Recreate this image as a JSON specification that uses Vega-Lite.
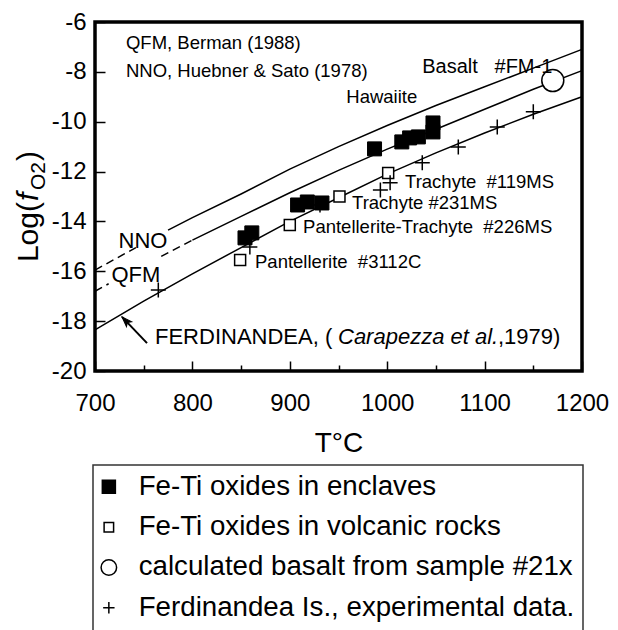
{
  "$schema": "https://vega.github.io/schema/vega-lite/v6.json",
  "width": 487,
  "height": 349,
  "autosize": {"type": "none"},
  "padding": {"left": 95, "top": 22, "right": 36, "bottom": 259},
  "background": "white",
  "config": {
    "view": {"stroke": "black", "strokeWidth": 3.5},
    "font": "Liberation Sans",
    "axis": {"grid": false, "domain": false, "labelFont": "Liberation Sans", "labelColor": "black", "tickColor": "black", "titleColor": "black", "titleFont": "Liberation Sans", "titleFontWeight": "normal"},
    "legend": {"strokeWidth": 1.5},
    "text": {"font": "Liberation Sans", "color": "black"}
  },
  "datasets": {
    "solid_lines": [
      {"curve": "NNO", "T": 775, "logfo2": -14.35}, {"curve": "NNO", "T": 800, "logfo2": -13.85}, {"curve": "NNO", "T": 850, "logfo2": -12.9}, {"curve": "NNO", "T": 900, "logfo2": -11.9}, {"curve": "NNO", "T": 950, "logfo2": -11.0}, {"curve": "NNO", "T": 1000, "logfo2": -10.15}, {"curve": "NNO", "T": 1050, "logfo2": -9.35}, {"curve": "NNO", "T": 1100, "logfo2": -8.6}, {"curve": "NNO", "T": 1150, "logfo2": -7.85}, {"curve": "NNO", "T": 1200, "logfo2": -7.1},
      {"curve": "QFM", "T": 800, "logfo2": -14.75}, {"curve": "QFM", "T": 850, "logfo2": -13.8}, {"curve": "QFM", "T": 900, "logfo2": -12.85}, {"curve": "QFM", "T": 950, "logfo2": -11.95}, {"curve": "QFM", "T": 1000, "logfo2": -11.1}, {"curve": "QFM", "T": 1050, "logfo2": -10.3}, {"curve": "QFM", "T": 1100, "logfo2": -9.5}, {"curve": "QFM", "T": 1150, "logfo2": -8.7}, {"curve": "QFM", "T": 1200, "logfo2": -7.95},
      {"curve": "FERD", "T": 700, "logfo2": -18.35}, {"curve": "FERD", "T": 750, "logfo2": -17.2}, {"curve": "FERD", "T": 800, "logfo2": -16.1}, {"curve": "FERD", "T": 850, "logfo2": -15.05}, {"curve": "FERD", "T": 900, "logfo2": -14.0}, {"curve": "FERD", "T": 950, "logfo2": -13.05}, {"curve": "FERD", "T": 1000, "logfo2": -12.1}, {"curve": "FERD", "T": 1050, "logfo2": -11.25}, {"curve": "FERD", "T": 1100, "logfo2": -10.45}, {"curve": "FERD", "T": 1150, "logfo2": -9.7}, {"curve": "FERD", "T": 1200, "logfo2": -9.0}
    ],
    "dashed_lines": [
      {"seg": "NNO-a", "T": 700, "logfo2": -15.95}, {"seg": "NNO-a", "T": 742, "logfo2": -15.05},
      {"seg": "QFM-a", "T": 700, "logfo2": -16.8}, {"seg": "QFM-a", "T": 714, "logfo2": -16.5},
      {"seg": "QFM-b", "T": 768, "logfo2": -15.4}, {"seg": "QFM-b", "T": 800, "logfo2": -14.75}
    ],
    "enclaves": [
      {"kind": "Fe-Ti oxides in enclaves", "T": 854, "logfo2": -14.66}, {"kind": "Fe-Ti oxides in enclaves", "T": 861, "logfo2": -14.46},
      {"kind": "Fe-Ti oxides in enclaves", "T": 908, "logfo2": -13.34}, {"kind": "Fe-Ti oxides in enclaves", "T": 918, "logfo2": -13.22}, {"kind": "Fe-Ti oxides in enclaves", "T": 933, "logfo2": -13.26},
      {"kind": "Fe-Ti oxides in enclaves", "T": 987, "logfo2": -11.09}, {"kind": "Fe-Ti oxides in enclaves", "T": 1015, "logfo2": -10.81}, {"kind": "Fe-Ti oxides in enclaves", "T": 1023, "logfo2": -10.65}, {"kind": "Fe-Ti oxides in enclaves", "T": 1032, "logfo2": -10.61}, {"kind": "Fe-Ti oxides in enclaves", "T": 1047, "logfo2": -10.41}, {"kind": "Fe-Ti oxides in enclaves", "T": 1047, "logfo2": -10.05}
    ],
    "volcanic": [
      {"kind": "Fe-Ti oxides in volcanic rocks", "T": 849, "logfo2": -15.55}, {"kind": "Fe-Ti oxides in volcanic rocks", "T": 900, "logfo2": -14.14}, {"kind": "Fe-Ti oxides in volcanic rocks", "T": 951, "logfo2": -13.0}, {"kind": "Fe-Ti oxides in volcanic rocks", "T": 1001, "logfo2": -12.06}
    ],
    "basalt": [
      {"kind": "calculated basalt from sample #21x", "T": 1170, "logfo2": -8.35}
    ],
    "experimental": [
      {"kind": "Ferdinandea Is., experimental data.", "T": 765, "logfo2": -16.75}, {"kind": "Ferdinandea Is., experimental data.", "T": 859, "logfo2": -15.03}, {"kind": "Ferdinandea Is., experimental data.", "T": 931, "logfo2": -13.34}, {"kind": "Ferdinandea Is., experimental data.", "T": 993, "logfo2": -12.74}, {"kind": "Ferdinandea Is., experimental data.", "T": 1003, "logfo2": -12.45}, {"kind": "Ferdinandea Is., experimental data.", "T": 1036, "logfo2": -11.65}, {"kind": "Ferdinandea Is., experimental data.", "T": 1073, "logfo2": -11.01}, {"kind": "Ferdinandea Is., experimental data.", "T": 1113, "logfo2": -10.21}, {"kind": "Ferdinandea Is., experimental data.", "T": 1150, "logfo2": -9.6}
    ],
    "notes": [
      {"label": "QFM, Berman (1988)", "T": 731.8, "logfo2": -6.84},
      {"label": "NNO, Huebner & Sato (1978)", "T": 731.8, "logfo2": -7.97},
      {"label": "Hawaiite", "T": 958, "logfo2": -9.0},
      {"label": "Trachyte\u00a0\u00a0#119MS", "T": 1018.3, "logfo2": -12.42},
      {"label": "Trachyte #231MS", "T": 963.9, "logfo2": -13.26},
      {"label": "Pantellerite-Trachyte\u00a0\u00a0#226MS", "T": 913.6, "logfo2": -14.22},
      {"label": "Pantellerite\u00a0\u00a0#3112C", "T": 864.3, "logfo2": -15.63}
    ],
    "basalt_label": [
      {"label": "Basalt\u00a0\u00a0\u00a0#FM-1", "T": 1036, "logfo2": -7.8}
    ],
    "buffers": [
      {"label": "NNO", "T": 749.3, "logfo2": -14.78},
      {"label": "QFM", "T": 742, "logfo2": -16.15}
    ],
    "arrow": [
      {"T": 753.4, "logfo2": -18.88}, {"T": 727.7, "logfo2": -17.83}
    ],
    "arrowhead": [
      {"T": 727.7, "logfo2": -17.83}
    ],
    "ferd_label": [
      {"T": 761.6, "logfo2": -18.65}
    ]
  },
  "layer": [
    {
      "data": {"name": "solid_lines"},
      "mark": {"type": "line", "stroke": "black", "strokeWidth": 1.5},
      "encoding": {
        "x": {"field": "T", "type": "quantitative", "scale": {"domain": [700, 1200], "nice": false, "zero": false},
          "axis": {"values": [700, 750, 800, 850, 900, 950, 1000, 1050, 1100, 1150, 1200], "labelExpr": "datum.value % 100 === 0 ? '' + datum.value : ''", "tickSize": {"condition": {"test": "datum.value % 100 === 0", "value": -10}, "value": -6}, "tickWidth": 1.5, "labelFontSize": 24, "labelPadding": 30, "labelFlush": false, "labelOverlap": false, "title": "T°C", "titleFontSize": 28, "titlePadding": 10}},
        "y": {"field": "logfo2", "type": "quantitative", "scale": {"domain": [-20, -6], "nice": false, "zero": false},
          "axis": {"values": [-20, -19, -18, -17, -16, -15, -14, -13, -12, -11, -10, -9, -8, -7, -6], "labelExpr": "datum.value % 2 === 0 ? '' + datum.value : ''", "tickSize": {"condition": {"test": "datum.value % 2 === 0", "value": -10}, "value": -6}, "tickWidth": 1.5, "labelFontSize": 24, "labelPadding": 19, "labelFlush": false, "labelOverlap": false, "title": null}},
        "detail": {"field": "curve"}
      }
    },
    {
      "data": {"name": "dashed_lines"},
      "mark": {"type": "line", "stroke": "black", "strokeWidth": 1.5, "strokeDash": [8, 5]},
      "encoding": {
        "x": {"field": "T", "type": "quantitative"},
        "y": {"field": "logfo2", "type": "quantitative"},
        "detail": {"field": "seg"}
      }
    },
    {
      "data": {"name": "arrow"},
      "mark": {"type": "line", "stroke": "black", "strokeWidth": 2},
      "encoding": {
        "x": {"field": "T", "type": "quantitative"},
        "y": {"field": "logfo2", "type": "quantitative"}
      }
    },
    {
      "data": {"name": "arrowhead"},
      "mark": {"type": "point", "shape": "M0,0L0.6,1.7L0,1.3L-0.6,1.7Z", "size": 144, "angle": -44, "filled": true, "fill": "black", "stroke": "black", "strokeWidth": 1, "opacity": 1},
      "encoding": {
        "x": {"field": "T", "type": "quantitative"},
        "y": {"field": "logfo2", "type": "quantitative"}
      }
    },
    {
      "data": {"name": "enclaves"},
      "mark": {"type": "point", "size": 196, "stroke": "black", "strokeWidth": 1, "opacity": 1},
      "encoding": {
        "x": {"field": "T", "type": "quantitative"},
        "y": {"field": "logfo2", "type": "quantitative"},
        "shape": {"field": "kind", "type": "nominal", "scale": {"domain": ["Fe-Ti oxides in enclaves", "Fe-Ti oxides in volcanic rocks", "calculated basalt from sample #21x", "Ferdinandea Is., experimental data."], "range": ["square", "square", "circle", "M-1,0H1M0,-1V1"]},
          "legend": {"title": "\u00a0", "titleOrient": "bottom", "titleFontSize": 30, "titlePadding": 0, "orient": "none", "legendX": -2, "legendY": 443, "direction": "vertical", "strokeColor": "#333333", "padding": 8, "labelFontSize": 27.7, "labelFont": "Liberation Sans", "labelColor": "black", "labelOffset": 16, "labelLimit": 1000, "rowPadding": 11.3, "symbolSize": 170, "symbolOffset": -6, "symbolStrokeColor": "black", "symbolStrokeWidth": 1.5, "symbolOpacity": 1,
            "encode": {"symbols": {"update": {"stroke": {"value": "black"}, "strokeWidth": {"value": 1.5}, "size": {"signal": "datum.value === 'Fe-Ti oxides in volcanic rocks' ? 90 : datum.value === 'calculated basalt from sample #21x' ? 240 : datum.value === 'Ferdinandea Is., experimental data.' ? 130 : 170"}}}}}},
        "fill": {"field": "kind", "type": "nominal", "scale": {"domain": ["Fe-Ti oxides in enclaves", "Fe-Ti oxides in volcanic rocks", "calculated basalt from sample #21x", "Ferdinandea Is., experimental data."], "range": ["black", "white", "white", "transparent"]},
          "legend": {"title": "\u00a0", "titleOrient": "bottom", "titleFontSize": 30, "titlePadding": 0, "orient": "none", "legendX": -2, "legendY": 443, "direction": "vertical", "strokeColor": "#333333", "padding": 8, "labelFontSize": 27.7, "labelFont": "Liberation Sans", "labelColor": "black", "labelOffset": 16, "labelLimit": 1000, "rowPadding": 11.3, "symbolSize": 170, "symbolOffset": -6, "symbolStrokeColor": "black", "symbolStrokeWidth": 1.5, "symbolOpacity": 1,
            "encode": {"symbols": {"update": {"stroke": {"value": "black"}, "strokeWidth": {"value": 1.5}, "size": {"signal": "datum.value === 'Fe-Ti oxides in volcanic rocks' ? 90 : datum.value === 'calculated basalt from sample #21x' ? 240 : datum.value === 'Ferdinandea Is., experimental data.' ? 130 : 170"}}}}}}
      }
    },
    {
      "data": {"name": "volcanic"},
      "mark": {"type": "point", "size": 121, "stroke": "black", "strokeWidth": 1.5, "opacity": 1},
      "encoding": {
        "x": {"field": "T", "type": "quantitative"},
        "y": {"field": "logfo2", "type": "quantitative"},
        "shape": {"field": "kind", "type": "nominal"},
        "fill": {"field": "kind", "type": "nominal"}
      }
    },
    {
      "data": {"name": "basalt"},
      "mark": {"type": "point", "size": 484, "stroke": "black", "strokeWidth": 1.5, "opacity": 1},
      "encoding": {
        "x": {"field": "T", "type": "quantitative"},
        "y": {"field": "logfo2", "type": "quantitative"},
        "shape": {"field": "kind", "type": "nominal"},
        "fill": {"field": "kind", "type": "nominal"}
      }
    },
    {
      "data": {"name": "experimental"},
      "mark": {"type": "point", "size": 225, "stroke": "black", "strokeWidth": 1.5, "opacity": 1},
      "encoding": {
        "x": {"field": "T", "type": "quantitative"},
        "y": {"field": "logfo2", "type": "quantitative"},
        "shape": {"field": "kind", "type": "nominal"},
        "fill": {"field": "kind", "type": "nominal"}
      }
    },
    {
      "data": {"name": "notes"},
      "mark": {"type": "text", "align": "left", "baseline": "middle", "fontSize": 18.5, "font": "Liberation Sans"},
      "encoding": {
        "x": {"field": "T", "type": "quantitative"},
        "y": {"field": "logfo2", "type": "quantitative"},
        "text": {"field": "label"}
      }
    },
    {
      "data": {"name": "basalt_label"},
      "mark": {"type": "text", "align": "left", "baseline": "middle", "fontSize": 20, "font": "Liberation Sans"},
      "encoding": {
        "x": {"field": "T", "type": "quantitative"},
        "y": {"field": "logfo2", "type": "quantitative"},
        "text": {"field": "label"}
      }
    },
    {
      "data": {"name": "buffers"},
      "mark": {"type": "text", "align": "center", "baseline": "middle", "fontSize": 22, "font": "Liberation Sans"},
      "encoding": {
        "x": {"field": "T", "type": "quantitative"},
        "y": {"field": "logfo2", "type": "quantitative"},
        "text": {"field": "label"}
      }
    },
    {
      "data": {"name": "ferd_label"},
      "mark": {"type": "text", "align": "left", "baseline": "middle", "fontSize": 22, "font": "Liberation Sans"},
      "encoding": {"x": {"field": "T", "type": "quantitative"}, "y": {"field": "logfo2", "type": "quantitative"}, "text": {"value": "FERDINANDEA, ( "}}
    },
    {
      "data": {"name": "ferd_label"},
      "mark": {"type": "text", "align": "left", "baseline": "middle", "fontSize": 22, "font": "Liberation Sans", "fontStyle": "italic", "dx": 183},
      "encoding": {"x": {"field": "T", "type": "quantitative"}, "y": {"field": "logfo2", "type": "quantitative"}, "text": {"value": "Carapezza"}}
    },
    {
      "data": {"name": "ferd_label"},
      "mark": {"type": "text", "align": "left", "baseline": "middle", "fontSize": 22, "font": "Liberation Sans", "fontStyle": "italic", "dx": 295.5},
      "encoding": {"x": {"field": "T", "type": "quantitative"}, "y": {"field": "logfo2", "type": "quantitative"}, "text": {"value": "et al."}}
    },
    {
      "data": {"name": "ferd_label"},
      "mark": {"type": "text", "align": "left", "baseline": "middle", "fontSize": 22, "font": "Liberation Sans", "dx": 343},
      "encoding": {"x": {"field": "T", "type": "quantitative"}, "y": {"field": "logfo2", "type": "quantitative"}, "text": {"value": ",1979)"}}
    },
    {
      "data": {"values": [{}]},
      "mark": {"type": "text", "align": "left", "baseline": "alphabetic", "angle": -90, "fontSize": 30, "font": "Liberation Sans"},
      "encoding": {"x": {"datum": 641.5, "type": "quantitative"}, "y": {"datum": -15.63, "type": "quantitative"}, "text": {"value": "Log("}}
    },
    {
      "data": {"values": [{}]},
      "mark": {"type": "text", "align": "left", "baseline": "alphabetic", "angle": -90, "fontSize": 30, "font": "Liberation Sans", "fontStyle": "italic", "dx": 61},
      "encoding": {"x": {"datum": 641.5, "type": "quantitative"}, "y": {"datum": -15.63, "type": "quantitative"}, "text": {"value": "f"}}
    },
    {
      "data": {"values": [{}]},
      "mark": {"type": "text", "align": "left", "baseline": "alphabetic", "angle": -90, "fontSize": 21, "font": "Liberation Sans", "dx": 72, "dy": 7},
      "encoding": {"x": {"datum": 641.5, "type": "quantitative"}, "y": {"datum": -15.63, "type": "quantitative"}, "text": {"value": "O2"}}
    },
    {
      "data": {"values": [{}]},
      "mark": {"type": "text", "align": "left", "baseline": "alphabetic", "angle": -90, "fontSize": 30, "font": "Liberation Sans", "dx": 101},
      "encoding": {"x": {"datum": 641.5, "type": "quantitative"}, "y": {"datum": -15.63, "type": "quantitative"}, "text": {"value": ")"}}
    }
  ]
}
